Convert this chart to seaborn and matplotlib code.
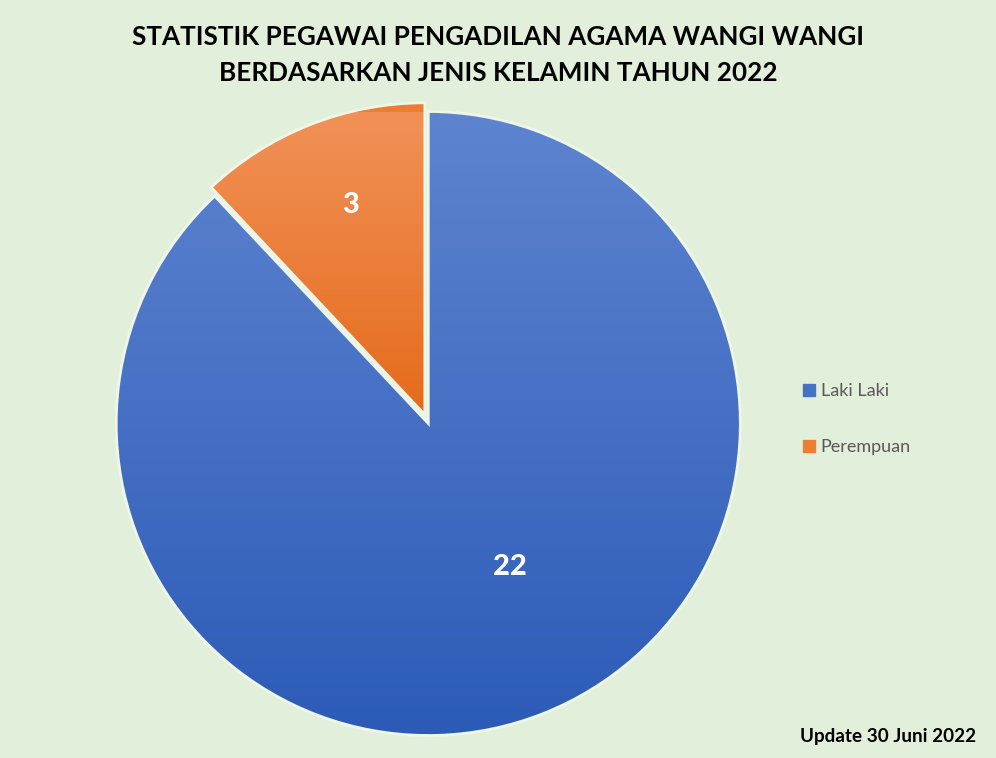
"""Pie chart: statistik pegawai PA Wangi Wangi berdasarkan jenis kelamin."""

import matplotlib
matplotlib.use("Agg")
import matplotlib.pyplot as plt
import matplotlib.patches as mpatches
import numpy as np
import seaborn as sns

# ── Data ──────────────────────────────────────────────────────────────
categories = ["Laki Laki", "Perempuan"]
counts = [22, 3]

# ── Theme ─────────────────────────────────────────────────────────────
BG = "#E2EFDA"
BLUE_TOP, BLUE_MID, BLUE_BOT = "#5E84D0", "#4472C4", "#2C5BB7"
ORANGE_TOP, ORANGE_MID, ORANGE_BOT = "#F29259", "#ED7D31", "#E56B1B"
EDGE = "#EEF6E8"
LEGEND_TEXT = "#595959"

sns.set_theme(style="white")
plt.rcParams["font.family"] = ["Lato", "DejaVu Sans"]

fig = plt.figure(figsize=(9.96, 7.58), dpi=100, facecolor=BG)
ax = fig.add_axes([0.43 - 0.3133, 0.4413 - 0.4116, 0.6266, 0.8232])
ax.set_facecolor(BG)

wedges, texts, autotexts = ax.pie(
    counts,
    colors=[BLUE_MID, ORANGE_MID],
    startangle=90,
    counterclock=False,
    explode=[0, 0.03],
    autopct=lambda p: f"{round(p * sum(counts) / 100)}",
    pctdistance=0.73,
    wedgeprops=dict(edgecolor=EDGE, linewidth=2),
    textprops=dict(color="white", fontsize=21, fontweight="black"),
)
ax.set_aspect("equal")

# Excel-like label placement
autotexts[0].set_position((0.262, -0.46))
autotexts[1].set_position((-0.25, 0.70))

# Vertical gradient fill clipped to each wedge
for w, (top, bot) in zip(wedges, [(BLUE_TOP, BLUE_BOT), (ORANGE_TOP, ORANGE_BOT)]):
    bb = w.get_path().get_extents(w.get_transform() + ax.transData.inverted())
    cmap = matplotlib.colors.LinearSegmentedColormap.from_list("g", [bot, top])
    grad = np.linspace(0, 1, 256).reshape(-1, 1)
    im = ax.imshow(grad, cmap=cmap, origin="lower", aspect="auto",
                   extent=[bb.x0, bb.x1, bb.y0, bb.y1], zorder=w.get_zorder() + 0.1)
    im.set_clip_path(w)
    edge = mpatches.PathPatch(w.get_path(), transform=w.get_transform(),
                              facecolor="none", edgecolor=EDGE, linewidth=2,
                              zorder=w.get_zorder() + 0.2)
    ax.add_patch(edge)
ax.set_xlim(-1.0, 1.0)
ax.set_ylim(-1.0, 1.0)
for t in autotexts:
    t.set_zorder(5)

# Legend
handles = [mpatches.Patch(color=c) for c in [BLUE_MID, ORANGE_MID]]
fig.legend(
    handles, categories,
    loc="center left", bbox_to_anchor=(0.806, 0.447),
    frameon=False, fontsize=13, labelcolor=LEGEND_TEXT,
    handlelength=0.65, handleheight=0.65, handletextpad=0.35,
    labelspacing=2.2, borderpad=0, borderaxespad=0,
)

# Title and footer
fig.text(0.5, 0.928, "STATISTIK PEGAWAI PENGADILAN AGAMA WANGI WANGI\nBERDASARKAN JENIS KELAMIN TAHUN 2022",
         ha="center", va="center", fontsize=18.8, fontweight="bold", color="black", linespacing=1.6)
fig.text(0.98, 0.028, "Update 30 Juni 2022", ha="right", va="center",
         fontsize=13.6, fontweight="bold", color="black")

fig.savefig("out.png", dpi=100, facecolor=BG)
plt.close(fig)
